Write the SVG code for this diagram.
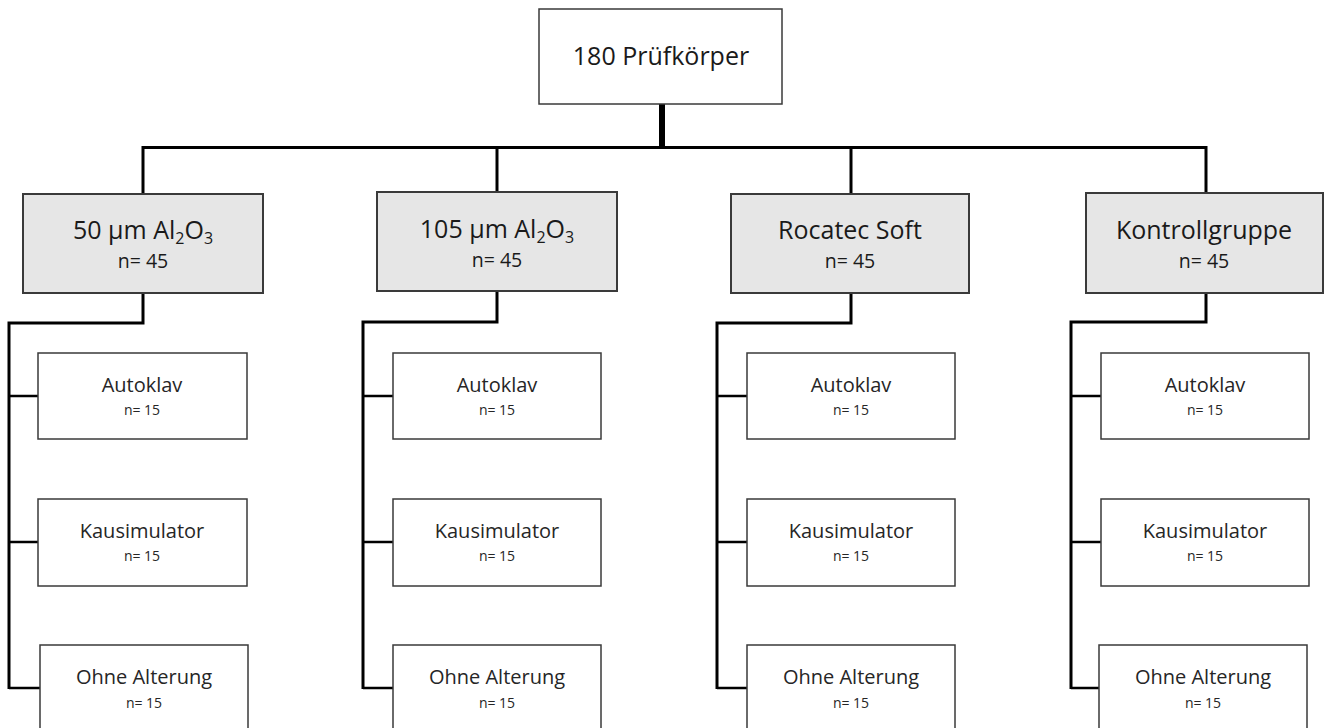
<svg xmlns="http://www.w3.org/2000/svg" width="1324" height="728" viewBox="0 0 1324 728">
<style>
.bg{fill:#ffffff}
.top{fill:#ffffff;stroke:#3a3a3a;stroke-width:1.5}
.l2{fill:#e6e6e6;stroke:#3a3a3a;stroke-width:2}
.l3{fill:#ffffff;stroke:#3a3a3a;stroke-width:1.5}
.t{font-family:"Open Sans","Noto Sans",sans-serif;fill:#1a1a1a;text-anchor:middle}
.t25{font-size:25px}
.t19{font-size:19.5px}
.t20{font-size:20px;fill:#262626}
.t14{font-size:14px;fill:#262626}
.ln{fill:none;stroke:#000000;stroke-width:3;stroke-linejoin:miter;stroke-linecap:butt}
.ls{fill:none;stroke:#000000;stroke-width:2.5}
.thick{fill:none;stroke:#000000;stroke-width:6}
</style>
<rect class="bg" x="0" y="0" width="1324" height="728"/>
<g id="connectors">
<path class="thick" d="M662 104 V148"/>
<path class="ln" d="M143 194 V147.5 H1206 V194"/>
<path class="ln" d="M497 147.5 V193"/>
<path class="ln" d="M851 147.5 V194"/>
<path class="ln" d="M143 293 V323 H9 V689"/>
<path class="ls" d="M9 396 H38 M9 542 H38 M9 688 H40"/>
<path class="ln" d="M497 291 V322 H363 V689"/>
<path class="ls" d="M363 396 H393 M363 542 H393 M363 688 H393"/>
<path class="ln" d="M851 293 V323 H717 V689"/>
<path class="ls" d="M717 396 H747 M717 542 H747 M717 688 H747"/>
<path class="ln" d="M1206 293 V322 H1071 V689"/>
<path class="ls" d="M1071 396 H1101 M1071 542 H1101 M1071 688 H1100"/>
</g>
<g id="root">
<rect class="top" x="539" y="9" width="243" height="95"/>
<text class="t t25" x="661" y="65">180 Prüfkörper</text>
</g>
<g id="g1">
<rect class="l2" x="23" y="194" width="240" height="99"/>
<text class="t t25" x="143" y="239">50 µm Al<tspan font-size="16" dy="5">2</tspan><tspan dy="-5">O</tspan><tspan font-size="16" dy="5">3</tspan></text>
<text class="t t19" x="143" y="268">n= 45</text>
</g>
<g id="g2">
<rect class="l2" x="377" y="192" width="240" height="99"/>
<text class="t t25" x="497" y="238">105 µm Al<tspan font-size="16" dy="5">2</tspan><tspan dy="-5">O</tspan><tspan font-size="16" dy="5">3</tspan></text>
<text class="t t19" x="497" y="267">n= 45</text>
</g>
<g id="g3">
<rect class="l2" x="731" y="194" width="238" height="99"/>
<text class="t t25" x="850" y="239">Rocatec Soft</text>
<text class="t t19" x="850" y="268">n= 45</text>
</g>
<g id="g4">
<rect class="l2" x="1086" y="193" width="237" height="100"/>
<text class="t t25" x="1204" y="239">Kontrollgruppe</text>
<text class="t t19" x="1204" y="268">n= 45</text>
</g>
<g id="g1-autoklav"><rect class="l3" x="38" y="353" width="209" height="86"/><text class="t t20" x="142" y="392">Autoklav</text><text class="t t14" x="142" y="415">n= 15</text></g>
<g id="g1-kausimulator"><rect class="l3" x="38" y="499" width="209" height="87"/><text class="t t20" x="142" y="538">Kausimulator</text><text class="t t14" x="142" y="561">n= 15</text></g>
<g id="g1-ohne"><rect class="l3" x="40" y="645" width="208" height="90"/><text class="t t20" x="144" y="684">Ohne Alterung</text><text class="t t14" x="144" y="708">n= 15</text></g>
<g id="g2-autoklav"><rect class="l3" x="393" y="353" width="208" height="86"/><text class="t t20" x="497" y="392">Autoklav</text><text class="t t14" x="497" y="415">n= 15</text></g>
<g id="g2-kausimulator"><rect class="l3" x="393" y="499" width="208" height="87"/><text class="t t20" x="497" y="538">Kausimulator</text><text class="t t14" x="497" y="561">n= 15</text></g>
<g id="g2-ohne"><rect class="l3" x="393" y="645" width="208" height="90"/><text class="t t20" x="497" y="684">Ohne Alterung</text><text class="t t14" x="497" y="708">n= 15</text></g>
<g id="g3-autoklav"><rect class="l3" x="747" y="353" width="208" height="86"/><text class="t t20" x="851" y="392">Autoklav</text><text class="t t14" x="851" y="415">n= 15</text></g>
<g id="g3-kausimulator"><rect class="l3" x="747" y="499" width="208" height="87"/><text class="t t20" x="851" y="538">Kausimulator</text><text class="t t14" x="851" y="561">n= 15</text></g>
<g id="g3-ohne"><rect class="l3" x="747" y="645" width="208" height="90"/><text class="t t20" x="851" y="684">Ohne Alterung</text><text class="t t14" x="851" y="708">n= 15</text></g>
<g id="g4-autoklav"><rect class="l3" x="1101" y="353" width="208" height="86"/><text class="t t20" x="1205" y="392">Autoklav</text><text class="t t14" x="1205" y="415">n= 15</text></g>
<g id="g4-kausimulator"><rect class="l3" x="1101" y="499" width="208" height="87"/><text class="t t20" x="1205" y="538">Kausimulator</text><text class="t t14" x="1205" y="561">n= 15</text></g>
<g id="g4-ohne"><rect class="l3" x="1099" y="645" width="208" height="90"/><text class="t t20" x="1203" y="684">Ohne Alterung</text><text class="t t14" x="1203" y="708">n= 15</text></g>
</svg>
